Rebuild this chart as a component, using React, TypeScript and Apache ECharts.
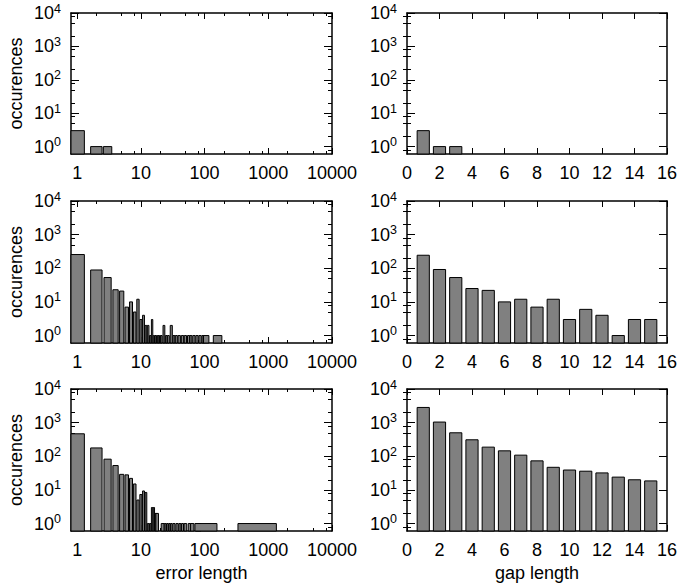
import React, { useEffect, useRef } from "react";
import * as echarts from "echarts";

// ---------- data ----------
// top row
const errLenTop = [1, 2, 3];
const errCntTop = [3, 1, 1];
const gapLenTop = [1, 2, 3];
const gapCntTop = [3, 1, 1];

// middle row
const errLenMid = [1, 2, 3, 4, 5, 6, 7, 8, 9, 10, 11, 12, 13, 14, 15, 16, 17, 18, 19, 20, 21, 23, 25, 27, 30, 33, 36, 40, 45, 50, 56, 61, 68, 76, 85, 95, 106, 160];
const errCntMid = [256, 89, 53, 23, 21, 7, 10, 5, 12, 3, 4, 2, 2, 1, 3, 1, 1, 1, 1, 1, 1, 2, 1, 1, 2, 1, 1, 1, 1, 1, 1, 1, 1, 1, 1, 1, 1, 1];
const gapLenMid = [1, 2, 3, 4, 5, 6, 7, 8, 9, 10, 11, 12, 13, 14, 15];
const gapCntMid = [244, 92, 53, 25, 22, 10, 12, 7, 12, 3, 6, 4, 1, 3, 3];

// bottom row
const errLenBot = [1, 2, 3, 4, 5, 6, 7, 8, 9, 10, 11, 12, 13, 14, 15, 16, 17, 18, 22, 24, 26, 28, 30, 33, 37, 41, 45, 50, 58, 64, 80, 105, 669];
const errCntBot = [466, 177, 82, 53, 29, 28, 22, 15, 5, 7.3, 9.3, 8.4, 1, 1, 3, 3, 2, 2, 1, 1, 1, 1, 1, 1, 1, 1, 1, 1, 1, 1, 1, 1, 1];
const gapLenBot = [1, 2, 3, 4, 5, 6, 7, 8, 9, 10, 11, 12, 13, 14, 15];
const gapCntBot = [2830, 1040, 499, 309, 187, 145, 108, 73, 47, 39, 36, 32, 24, 20, 18.5];

// axes
const logMajor = [1, 10, 100, 1000, 10000];
const logMinor = [2, 5, 8, 20, 50, 80, 200, 500, 800, 2000, 5000, 8000];
const yMajor = [1, 10, 100, 1000, 10000];
const yMinor = [0.8, 2, 5, 8, 20, 50, 80, 200, 500, 800, 2000, 5000, 8000];
const Y_MIN = 0.6;
const Y_MAX = 10000;
const ERR_MIN = 0.8;
const ERR_MAX = 10000;
const GAP_MIN = 0;
const GAP_MAX = 16;
const BOX_REL = 0.75;

const FONT = "Liberation Sans, Arial, Helvetica, sans-serif";
const FS = 18;

// gnuplot-like "boxes" with automatic relative width (in axis space)
function boxes(xs: number[], counts: number[], log: boolean) {
  const t = log ? (v: number) => Math.log10(v) : (v: number) => v;
  const inv = log ? (v: number) => Math.pow(10, v) : (v: number) => v;
  return xs.map((x, i) => {
    const c = t(x);
    const hasPrev = i > 0;
    const hasNext = i < xs.length - 1;
    let half: number;
    if (hasPrev && hasNext) half = (BOX_REL * (t(xs[i + 1]) - t(xs[i - 1]))) / 4;
    else if (hasPrev) half = (BOX_REL * (c - t(xs[i - 1]))) / 2;
    else if (hasNext) half = (BOX_REL * (t(xs[i + 1]) - c)) / 2;
    else half = BOX_REL / 2;
    return [inv(c - half), inv(c + half), counts[i]];
  });
}

const panels = [
  { len: errLenTop, cnt: errCntTop, log: true },
  { len: gapLenTop, cnt: gapCntTop, log: false },
  { len: errLenMid, cnt: errCntMid, log: true },
  { len: gapLenMid, cnt: gapCntMid, log: false },
  { len: errLenBot, cnt: errCntBot, log: true },
  { len: gapLenBot, cnt: gapCntBot, log: false },
];

const gridRects = [
  { left: 71, top: 13, width: 261, height: 141 },
  { left: 407, top: 13, width: 261, height: 141 },
  { left: 71, top: 201, width: 261, height: 142 },
  { left: 407, top: 201, width: 261, height: 142 },
  { left: 71, top: 389, width: 261, height: 142 },
  { left: 407, top: 389, width: 261, height: 142 },
];

const black = "#000";
const LINE_W = 1.5;

const powLabel = (v: number) => `{b|10}{s|${Math.round(Math.log10(v))}}`;
const richPow = {
  b: { fontSize: FS, fontFamily: FONT, color: black },
  s: { fontSize: 12.5, fontFamily: FONT, color: black, padding: [0, 0, 9, 0] },
};

function buildOption() {
  const grid: any[] = [];
  const xAxis: any[] = [];
  const yAxis: any[] = [];
  const series: any[] = [];

  panels.forEach((p, gi) => {
    grid.push({ ...gridRects[gi], containLabel: false });
    const isLeft = gi % 2 === 0;
    const isBottom = gi >= 4;

    // ---- x axes ----
    const xBase: any = p.log
      ? { type: "log", logBase: 10, min: ERR_MIN, max: ERR_MAX }
      : { type: "value", min: GAP_MIN, max: GAP_MAX, interval: 2 };
    const xName = isBottom ? (p.log ? "error length" : "gap length") : "";
    ["bottom", "top"].forEach((pos) => {
      const main = pos === "bottom";
      xAxis.push({
        ...xBase,
        gridIndex: gi,
        position: pos,
        name: main ? xName : "",
        nameLocation: "middle",
        nameGap: 33,
        nameTextStyle: { fontSize: FS, fontFamily: FONT, color: black },
        axisLine: { show: true, onZero: false, lineStyle: { color: black, width: LINE_W } },
        axisTick: p.log
          ? { show: true, inside: true, length: 6, customValues: logMajor, lineStyle: { color: black, width: 1 } }
          : { show: true, inside: true, length: 6, lineStyle: { color: black, width: 1 } },
        axisLabel: main
          ? p.log
            ? { show: true, customValues: logMajor, margin: 10, fontSize: FS, fontFamily: FONT, color: black, formatter: (v: number) => String(Math.round(v)) }
            : { show: true, margin: 10, fontSize: FS, fontFamily: FONT, color: black }
          : { show: false },
        splitLine: { show: false },
        minorTick: { show: false },
      });
      if (p.log) {
        xAxis.push({
          ...xBase,
          gridIndex: gi,
          position: pos,
          axisLine: { show: false },
          axisTick: { show: true, inside: true, length: 3, customValues: logMinor, lineStyle: { color: black, width: 1 } },
          axisLabel: { show: false },
          splitLine: { show: false },
        });
      }
    });

    // ---- y axes ----
    const yBase: any = { type: "log", logBase: 10, min: Y_MIN, max: Y_MAX };
    ["left", "right"].forEach((pos) => {
      const main = pos === "left";
      yAxis.push({
        ...yBase,
        gridIndex: gi,
        position: pos,
        name: main && isLeft ? "occurences" : "",
        nameLocation: "middle",
        nameGap: 46,
        nameRotate: 90,
        nameTextStyle: { fontSize: FS, fontFamily: FONT, color: black },
        axisLine: { show: true, onZero: false, lineStyle: { color: black, width: LINE_W } },
        axisTick: { show: true, inside: true, length: 8, customValues: yMajor, lineStyle: { color: black, width: 1 } },
        axisLabel: main
          ? { show: true, customValues: yMajor, margin: 10, formatter: powLabel, rich: richPow }
          : { show: false },
        splitLine: { show: false },
      });
      yAxis.push({
        ...yBase,
        gridIndex: gi,
        position: pos,
        axisLine: { show: false },
        axisTick: { show: true, inside: true, length: 4, customValues: yMinor, lineStyle: { color: black, width: 1 } },
        axisLabel: { show: false },
        splitLine: { show: false },
      });
    });
  });

  let xi = 0;
  let yi = 0;
  panels.forEach((p) => {
    const xIndex = xi;
    const yIndex = yi;
    xi += p.log ? 4 : 2;
    yi += 4;
    series.push({
      type: "custom",
      xAxisIndex: xIndex,
      yAxisIndex: yIndex,
      data: boxes(p.len, p.cnt, p.log),
      encode: { x: [0, 1], y: 2 },
      renderItem: (params: any, api: any) => {
        const cs = params.coordSys;
        const a = api.coord([api.value(0), api.value(2)]);
        const b = api.coord([api.value(1), api.value(2)]);
        const x0 = Math.max(a[0], cs.x);
        const x1 = Math.min(b[0], cs.x + cs.width);
        const yb = cs.y + cs.height;
        return {
          type: "rect",
          shape: { x: x0, y: a[1], width: x1 - x0, height: yb - a[1] },
          style: { fill: "#808080", stroke: black, lineWidth: 1 },
        };
      },
      z: 1,
    });
  });

  return {
    animation: false,
    backgroundColor: "#fff",
    textStyle: { fontFamily: FONT },
    grid,
    xAxis,
    yAxis,
    series,
  };
}

export default function App() {
  const ref = useRef<HTMLDivElement>(null);
  useEffect(() => {
    if (!ref.current) return;
    const chart = echarts.init(ref.current, undefined, { renderer: "svg" });
    chart.setOption(buildOption() as any);
    return () => chart.dispose();
  }, []);
  return (
    <div
      ref={ref}
      style={{ position: "absolute", left: 0, top: 0, width: 680, height: 588 }}
    />
  );
}
